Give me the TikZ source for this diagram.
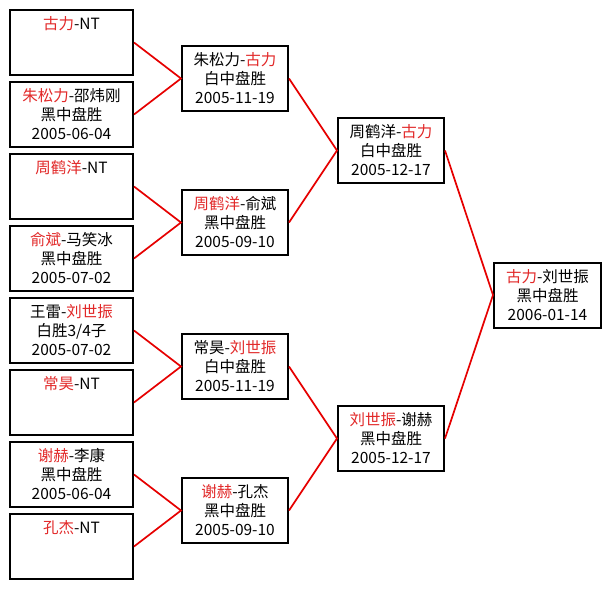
\documentclass[tikz,border=0pt]{standalone}
\usepackage{fontspec}
\newfontfamily\cjk{Noto Sans CJK SC}
\definecolor{hred}{RGB}{226,40,40}
\definecolor{lred}{RGB}{230,0,0}
\newcommand\redt[1]{\textcolor{hred}{#1}}
\begin{document}
\begin{tikzpicture}[x=1pt,y=-1pt,
  box/.style={draw=black,line width=2pt,fill=white,inner sep=0pt,minimum height=65pt},
  b1/.style={box,minimum width=123pt},
  b2/.style={box,minimum width=106pt},
  txt/.style={anchor=north,inner sep=0pt,align=center,font=\cjk\fontsize{15.5}{19}\selectfont},
  link/.style={draw=lred,line width=1.7pt}]
\useasboundingbox[fill=white] (0,0) rectangle (611,589);
% column 1
\node[b1] (p1) at (71.5,42.5) {};
\node[b1] (p2) at (71.5,114.5) {};
\node[b1] (p3) at (71.5,186.5) {};
\node[b1] (p4) at (71.5,258.5) {};
\node[b1] (p5) at (71.5,330.5) {};
\node[b1] (p6) at (71.5,402.5) {};
\node[b1] (p7) at (71.5,474.5) {};
\node[b1] (p8) at (71.5,546.5) {};
% column 2
\node[b2] (q1) at (235,78.5) {};
\node[b2] (q2) at (235,222.5) {};
\node[b2] (q3) at (235,366.5) {};
\node[b2] (q4) at (235,510.5) {};
% column 3
\node[b2] (r1) at (391,150.5) {};
\node[b2] (r2) at (391,438.5) {};
% column 4
\node[b2,minimum width=107pt] (s1) at (547.5,295) {};
% texts
\node[txt] (tp1) at ([yshift=-7pt]p1.north) {\strut\redt{古力}-NT};
\node[txt] (tp2) at ([yshift=-7pt]p2.north) {\strut\redt{朱松力}-邵炜刚\\黑中盘胜\\2005-06-04};
\node[txt] (tp3) at ([yshift=-7pt]p3.north) {\strut\redt{周鹤洋}-NT};
\node[txt] (tp4) at ([yshift=-7pt]p4.north) {\strut\redt{俞斌}-马笑冰\\黑中盘胜\\2005-07-02};
\node[txt] (tp5) at ([yshift=-7pt]p5.north) {\strut 王雷-\redt{刘世振}\\白胜3/4子\\2005-07-02};
\node[txt] (tp6) at ([yshift=-7pt]p6.north) {\strut\redt{常昊}-NT};
\node[txt] (tp7) at ([yshift=-7pt]p7.north) {\strut\redt{谢赫}-李康\\黑中盘胜\\2005-06-04};
\node[txt] (tp8) at ([yshift=-7pt]p8.north) {\strut\redt{孔杰}-NT};
\node[txt] (tq1) at ([yshift=-7pt]q1.north) {\strut 朱松力-\redt{古力}\\白中盘胜\\2005-11-19};
\node[txt] (tq2) at ([yshift=-7pt]q2.north) {\strut\redt{周鹤洋}-俞斌\\黑中盘胜\\2005-09-10};
\node[txt] (tq3) at ([yshift=-7pt]q3.north) {\strut 常昊-\redt{刘世振}\\白中盘胜\\2005-11-19};
\node[txt] (tq4) at ([yshift=-7pt]q4.north) {\strut\redt{谢赫}-孔杰\\黑中盘胜\\2005-09-10};
\node[txt] (tr1) at ([yshift=-7pt]r1.north) {\strut 周鹤洋-\redt{古力}\\白中盘胜\\2005-12-17};
\node[txt] (tr2) at ([yshift=-7pt]r2.north) {\strut\redt{刘世振}-谢赫\\黑中盘胜\\2005-12-17};
\node[txt] (ts1) at ([yshift=-7pt]s1.north) {\strut\redt{古力}-刘世振\\黑中盘胜\\2006-01-14};
% connectors
\draw[link] (p1.east) -- (q1.west) -- (p2.east);
\draw[link] (p3.east) -- (q2.west) -- (p4.east);
\draw[link] (p5.east) -- (q3.west) -- (p6.east);
\draw[link] (p7.east) -- (q4.west) -- (p8.east);
\draw[link] (q1.east) -- (r1.west) -- (q2.east);
\draw[link] (q3.east) -- (r2.west) -- (q4.east);
\draw[link] (r1.east) -- (s1.west) -- (r2.east);
\end{tikzpicture}
\end{document}
